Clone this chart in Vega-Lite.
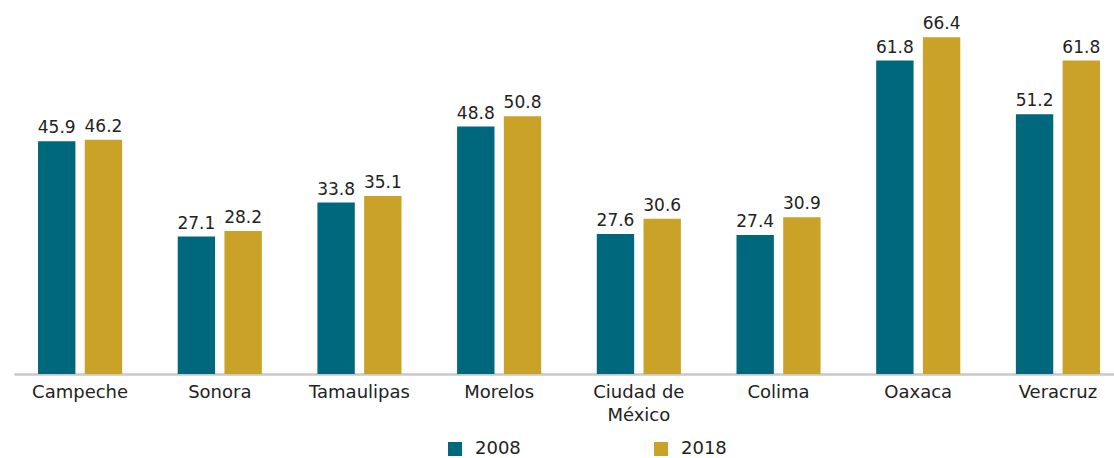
{
  "$schema": "https://vega.github.io/schema/vega-lite/v6.json",
  "autosize": {"type": "none"},
  "padding": {"left": 14, "top": 19, "right": 0, "bottom": 84},
  "width": 1110,
  "height": 355,
  "background": "white",
  "config": {
    "view": {"stroke": null},
    "font": "DejaVu Sans",
    "text": {"font": "DejaVu Sans"}
  },
  "data": {
    "values": [
      {"estado": "Campeche", "anio": "2008", "valor": 45.9},
      {"estado": "Campeche", "anio": "2018", "valor": 46.2},
      {"estado": "Sonora", "anio": "2008", "valor": 27.1},
      {"estado": "Sonora", "anio": "2018", "valor": 28.2},
      {"estado": "Tamaulipas", "anio": "2008", "valor": 33.8},
      {"estado": "Tamaulipas", "anio": "2018", "valor": 35.1},
      {"estado": "Morelos", "anio": "2008", "valor": 48.8},
      {"estado": "Morelos", "anio": "2018", "valor": 50.8},
      {"estado": "Ciudad de México", "anio": "2008", "valor": 27.6},
      {"estado": "Ciudad de México", "anio": "2018", "valor": 30.6},
      {"estado": "Colima", "anio": "2008", "valor": 27.4},
      {"estado": "Colima", "anio": "2018", "valor": 30.9},
      {"estado": "Oaxaca", "anio": "2008", "valor": 61.8},
      {"estado": "Oaxaca", "anio": "2018", "valor": 66.4},
      {"estado": "Veracruz", "anio": "2008", "valor": 51.2},
      {"estado": "Veracruz", "anio": "2018", "valor": 61.8}
    ]
  },
  "encoding": {
    "x": {
      "field": "estado",
      "type": "nominal",
      "sort": null,
      "scale": {"paddingInner": 0.398, "paddingOuter": 0.172},
      "axis": {
        "title": null,
        "labelAngle": 0,
        "labelExpr": "datum.value == 'Ciudad de México' ? ['Ciudad de', 'México'] : datum.value",
        "labelFontSize": 18,
        "labelColor": "#222222",
        "labelFont": "DejaVu Sans",
        "labelLineHeight": 23,
        "labelPadding": 9,
        "ticks": false,
        "domainColor": "#c8c8c8",
        "domainWidth": 2.5,
        "labelBaseline": "top"
      }
    },
    "xOffset": {
      "field": "anio",
      "type": "nominal",
      "scale": {"paddingInner": 0.2}
    },
    "y": {
      "field": "valor",
      "type": "quantitative",
      "scale": {"domain": [0, 70]},
      "axis": null
    }
  },
  "layer": [
    {
      "mark": {"type": "bar"},
      "encoding": {
        "color": {
          "field": "anio",
          "type": "nominal",
          "scale": {"domain": ["2008", "2018"], "range": ["#00687d", "#c9a227"]},
          "legend": {
            "title": null,
            "orient": "none",
            "legendX": 432,
            "legendY": 421,
            "direction": "horizontal",
            "symbolType": "square",
            "symbolSize": 196,
            "symbolStrokeWidth": 0,
            "labelFontSize": 18,
            "labelFont": "DejaVu Sans",
            "labelColor": "#222222",
            "labelOffset": 11,
            "columnPadding": 131
          }
        }
      }
    },
    {
      "mark": {"type": "text", "baseline": "alphabetic", "dy": -8, "fontSize": 17, "color": "#222222"},
      "encoding": {
        "text": {"field": "valor", "type": "quantitative", "format": ".1f"}
      }
    }
  ]
}
